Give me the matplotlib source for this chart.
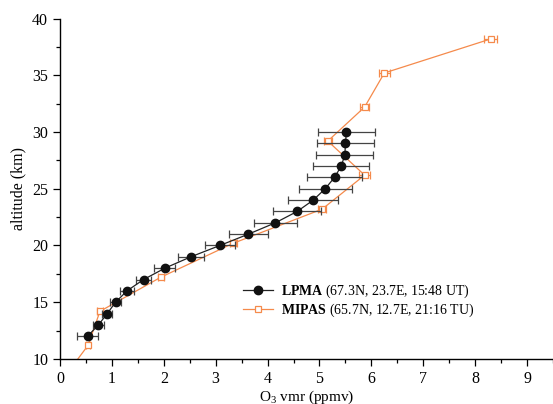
import matplotlib
matplotlib.use("Agg")
import matplotlib.pyplot as plt
from matplotlib.ticker import MultipleLocator

# LPMA data
lpma_alt = [12, 13, 14, 15, 16, 17, 18, 19, 20, 21, 22, 23, 24, 25, 26, 27, 28, 29, 30]
lpma_o3 = [0.53, 0.74, 0.91, 1.07, 1.29, 1.61, 2.02, 2.52, 3.08, 3.63, 4.15, 4.57,
           4.88, 5.11, 5.29, 5.42, 5.49, 5.50, 5.52]
lpma_err = [0.2, 0.1, 0.1, 0.11, 0.13, 0.15, 0.2, 0.25, 0.29, 0.38, 0.42, 0.46,
            0.48, 0.51, 0.53, 0.54, 0.55, 0.55, 0.55]

# MIPAS data
mipas_alt = [8.2, 11.2, 14.2, 17.2, 20.2, 23.2, 26.2, 29.2, 32.2, 35.2, 38.2]
mipas_o3 = [0.05, 0.54, 0.77, 1.94, 3.34, 5.05, 5.87, 5.16, 5.87, 6.25, 8.3]
mipas_err = [0.04, 0.04, 0.05, 0.06, 0.07, 0.08, 0.1, 0.08, 0.09, 0.1, 0.12]

plt.rcParams['font.family'] = ['Liberation Serif', 'DejaVu Serif']
plt.rcParams['mathtext.fontset'] = 'custom'
plt.rcParams['mathtext.rm'] = 'Liberation Serif'
plt.rcParams['mathtext.bf'] = 'Liberation Serif:bold'
plt.rcParams['mathtext.it'] = 'Liberation Serif:italic'

fig = plt.figure(figsize=(5.53, 4.04), dpi=100)
ax = fig.add_axes([0.1085, 0.1114, 0.8915, 0.8428])

orange = '#F58A4B'
c1 = ax.errorbar(lpma_o3, lpma_alt, xerr=lpma_err, color='#222222', lw=0.9,
                 marker='o', ms=6, mfc='#111111', mec='#111111', ecolor='#444444',
                 elinewidth=0.9, capsize=3, capthick=0.9, zorder=3)
c2 = ax.errorbar(mipas_o3, mipas_alt, xerr=mipas_err, color=orange, lw=0.9,
                 marker='s', ms=5, mfc='white', mec=orange, mew=0.9, ecolor=orange,
                 elinewidth=0.9, capsize=3, capthick=0.9, zorder=2)

ax.set_xlim(0, 9.5)
ax.set_ylim(10, 40)
ax.xaxis.set_major_locator(MultipleLocator(1))
ax.xaxis.set_minor_locator(MultipleLocator(0.5))
ax.yaxis.set_major_locator(MultipleLocator(5))
ax.yaxis.set_minor_locator(MultipleLocator(2.5))
ax.spines['top'].set_visible(False)
ax.spines['right'].set_visible(False)
for s in ('left', 'bottom'):
    ax.spines[s].set_linewidth(1.0)
ax.tick_params(which='major', direction='out', length=5, width=0.9, labelsize=11.5)
ax.tick_params(which='minor', direction='out', length=3, width=0.9)

ax.set_xlabel(r'O$_3$ vmr (ppmv)', fontsize=11, labelpad=1)
ax.set_ylabel('altitude (km)', fontsize=11.5, labelpad=4)

leg = ax.legend([c1.lines[0], c2.lines[0]],
                [r'$\mathbf{LPMA}$ (67.3N, 23.7E, 15:48 UT)',
                 r'$\mathbf{MIPAS}$ (65.7N, 12.7E, 21:16 TU)'],
                loc='lower left', bbox_to_anchor=(0.345, 0.08), frameon=False,
                fontsize=10, handlelength=2.2, handletextpad=0.6, labelspacing=0.15)

fig.savefig('out.png', dpi=100)
